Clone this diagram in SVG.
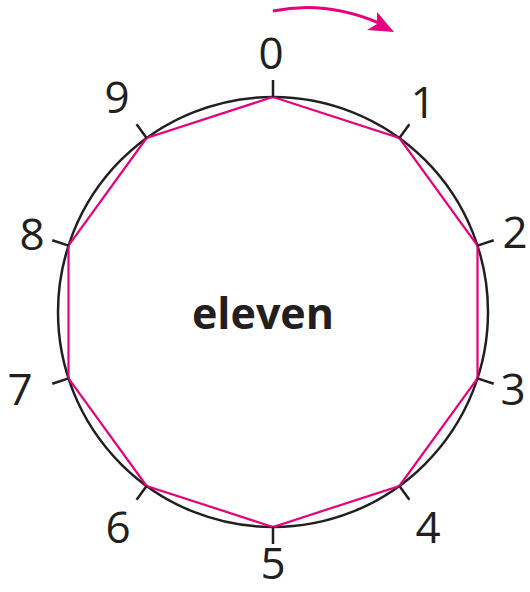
<svg xmlns="http://www.w3.org/2000/svg" width="530" height="592" viewBox="0 0 530 592">
<style>
.lbl{font-family:"Open Sans","Liberation Sans",sans-serif;font-size:44px;fill:#231f20;text-anchor:middle}
.tick{stroke:#231f20;stroke-width:2.5;fill:none}
</style>
<rect width="530" height="592" fill="#fff"/>
<g id="circle">
<circle cx="273" cy="312" r="215" fill="none" stroke="#231f20" stroke-width="2.5"/>
</g>
<g id="connectors">
<polygon points="273,97 399.4,138 477.5,245.6 477.5,378.4 399.4,486 273,527 146.6,486 68.5,378.4 68.5,245.6 146.6,138" fill="none" stroke="#e5007d" stroke-width="2.2" stroke-linejoin="miter"/>
<path d="M273,11 Q325,0 379,23" fill="none" stroke="#e5007d" stroke-width="3"/>
<path d="M394,32 L367,30 L377,24 L377,12 Z" fill="#e5007d"/>
</g>
<g id="ticks" class="tick">
<line x1="273" y1="97" x2="273" y2="80"/>
<line x1="399.4" y1="138" x2="409.4" y2="124.2"/>
<line x1="477.5" y1="245.6" x2="493.7" y2="240.3"/>
<line x1="477.5" y1="378.4" x2="493.7" y2="383.7"/>
<line x1="399.4" y1="486" x2="409.4" y2="499.8"/>
<line x1="273" y1="527" x2="273" y2="544"/>
<line x1="146.6" y1="486" x2="136.6" y2="499.8"/>
<line x1="68.5" y1="378.4" x2="52.3" y2="383.7"/>
<line x1="68.5" y1="245.6" x2="52.3" y2="240.3"/>
<line x1="146.6" y1="138" x2="136.6" y2="124.2"/>
</g>
<g id="labels">
<text class="lbl" x="271" y="69">0</text>
<text class="lbl" x="423" y="118">1</text>
<text class="lbl" x="515" y="248">2</text>
<text class="lbl" x="513" y="405">3</text>
<text class="lbl" x="428" y="543">4</text>
<text class="lbl" x="273" y="579">5</text>
<text class="lbl" x="118" y="543">6</text>
<text class="lbl" x="20" y="405">7</text>
<text class="lbl" x="32" y="250">8</text>
<text class="lbl" x="117" y="113">9</text>
</g>
<g id="center">
<text x="263" y="329" style="font-family:'Open Sans','Liberation Sans',sans-serif;font-size:43px;font-weight:bold;fill:#231f20;text-anchor:middle">eleven</text>
</g>
</svg>
